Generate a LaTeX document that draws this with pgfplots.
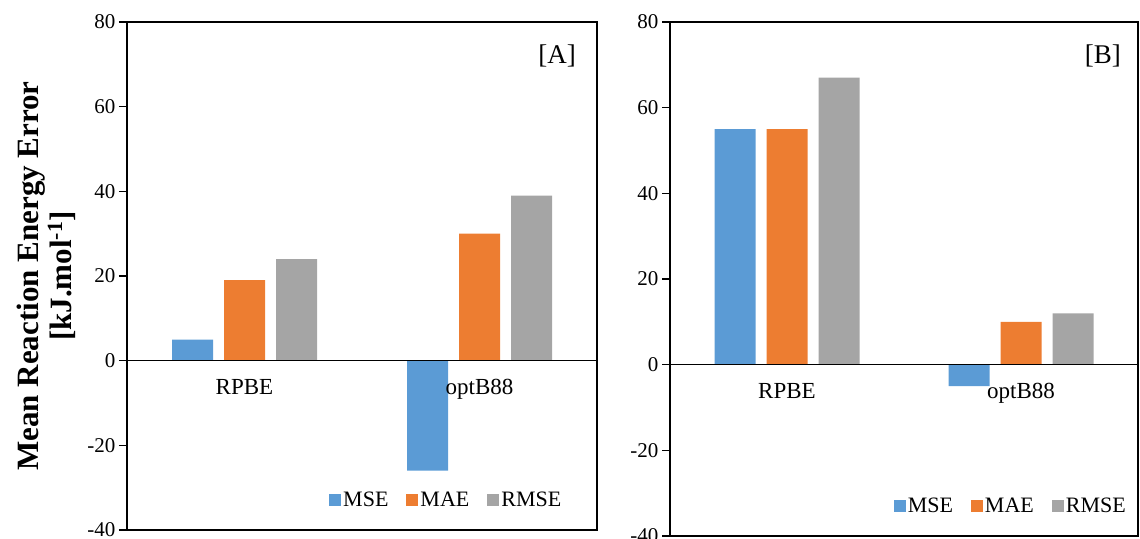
\documentclass[border=0pt]{standalone}
\usepackage{fontspec}
\setmainfont{Liberation Serif}
\usepackage{pgfplots}
\pgfplotsset{compat=1.18}
\definecolor{cMSE}{HTML}{5B9BD5}
\definecolor{cMAE}{HTML}{ED7D31}
\definecolor{cRMSE}{HTML}{A5A5A5}
\pgfplotsset{
  panel/.style={
    scale only axis,
    anchor=south west,
    ybar=11pt,
    bar width=41pt,
    xmin=-0.5, xmax=1.5,
    ymin=-40, ymax=80,
    xtick=\empty,
    ytick={-40,-20,0,20,40,60,80},
    yticklabels={-40,-20,0,20,40,60,80},
    yticklabel style={font=\fontsize{21}{23}\selectfont},
    tick align=outside,
    major tick length=8pt,
    tick style={black, line width=1.2pt},
    axis line style={black, line width=1.3pt},
    ytick pos=left,
    legend columns=-1,
    legend style={draw=none, fill=none, anchor=south east,
      font=\fontsize{22}{24}\selectfont,
      /tikz/every even column/.append style={column sep=16pt}},
    legend image code/.code={\fill[##1] (0pt,-6pt) rectangle (12pt,6pt);},
  }
}
\begin{document}
\begin{tikzpicture}
\path[use as bounding box] (0pt,0pt) rectangle (1140pt,538pt);
% Panel A
\begin{axis}[panel, at={(127pt,8pt)}, width=470pt, height=508pt,
  legend style={at={(0.935,0.035)}}]
\addplot[fill=cMSE, draw=none] coordinates {(0,5) (1,-26)};
\addplot[fill=cMAE, draw=none] coordinates {(0,19) (1,30)};
\addplot[fill=cRMSE, draw=none] coordinates {(0,24) (1,39)};
\legend{MSE,MAE,RMSE}
\draw[black, line width=1.3pt] (axis cs:-0.5,0) -- (axis cs:1.5,0);
\node[anchor=north, font=\fontsize{23}{25}\selectfont, yshift=-15pt] at (axis cs:0,0) {RPBE};
\node[anchor=north, font=\fontsize{23}{25}\selectfont, yshift=-15pt] at (axis cs:1,0) {optB88};
\node[font=\fontsize{27}{29}\selectfont] at (axis cs:1.33,72) {[A]};
\end{axis}
% Panel B
\begin{axis}[panel, at={(670pt,2pt)}, width=468pt, height=514pt,
  legend style={at={(0.985,0.035)}}]
\addplot[fill=cMSE, draw=none] coordinates {(0,55) (1,-5)};
\addplot[fill=cMAE, draw=none] coordinates {(0,55) (1,10)};
\addplot[fill=cRMSE, draw=none] coordinates {(0,67) (1,12)};
\legend{MSE,MAE,RMSE}
\draw[black, line width=1.3pt] (axis cs:-0.5,0) -- (axis cs:1.5,0);
\node[anchor=north, font=\fontsize{23}{25}\selectfont, yshift=-15pt] at (axis cs:0,0) {RPBE};
\node[anchor=north, font=\fontsize{23}{25}\selectfont, yshift=-15pt] at (axis cs:1,0) {optB88};
\node[font=\fontsize{27}{29}\selectfont] at (axis cs:1.35,72) {[B]};
\end{axis}
\node[rotate=90, align=center, font=\bfseries\fontsize{31}{33}\selectfont] at (46pt,262pt)
  {Mean Reaction Energy Error\\{}[kJ.mol\textsuperscript{-1}]};
\end{tikzpicture}
\end{document}
